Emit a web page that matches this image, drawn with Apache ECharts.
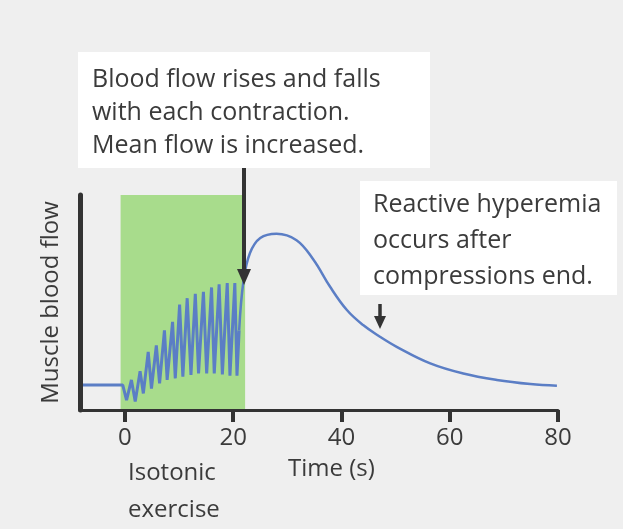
<!DOCTYPE html>
<html>
<head>
<meta charset="utf-8">
<script src="https://cdn.jsdelivr.net/npm/echarts@6/dist/echarts.min.js"></script>
<style>
  html, body { margin: 0; padding: 0; background: #efefef; }
  #chart { width: 623px; height: 529px; }
</style>
</head>
<body>
<div id="chart"></div>
<script>
// time (s) and flow (arbitrary units)
const exerciseTime = [-8.3, -0.4, 0.3, 1.2, 1.9, 2.8, 3.4, 4.3, 4.9, 5.8, 6.4, 7.3, 7.8, 8.8, 9.3, 10.1, 10.7, 11.5, 12.2, 13.0, 13.6, 14.5, 15.1, 16.0, 16.5, 17.4, 18.0, 18.9, 19.4, 20.3, 20.7, 21.1];
const exerciseFlow = [11.6, 11.6, 4.6, 14, 3.9, 18, 7.7, 27, 10, 30, 12.4, 37, 14, 41, 14.7, 49, 15.5, 52, 16.3, 54, 17, 55, 17, 57, 17, 58.5, 16.5, 59, 16, 59, 16, 37];
const recoveryTime = [21.1, 21.9, 23.1, 25, 28, 31.7, 34.8, 37.9, 41, 44, 47.1, 50.2, 56.4, 62.5, 68.7, 74.9, 79.8];
const recoveryFlow = [37, 60, 73, 80, 82, 79, 70, 57.3, 46.5, 39.5, 34.1, 29.4, 21.7, 17, 14, 12.1, 11.3];
const exerciseSpan = [-0.8, 22.2];
const tickValues = [0, 20, 40, 60, 80];

const FONT = 'Open Sans';
const TXT = '#3b3b3b';

const pair = (xs, ys) => xs.map((x, i) => [x, ys[i]]);

const chart = echarts.init(document.getElementById('chart'));

const option = {
  backgroundColor: '#efefef',
  animation: false,
  grid: { left: 80, right: 65, top: 195, bottom: 119 },
  xAxis: {
    type: 'value',
    min: -8.3,
    max: 80,
    axisLine: { show: true, lineStyle: { color: '#333', width: 3 } },
    axisTick: { show: true, customValues: tickValues, length: 12, lineStyle: { color: '#333', width: 4 } },
    axisLabel: { customValues: tickValues, margin: 16, fontSize: 24, color: TXT, fontFamily: FONT },
    splitLine: { show: false },
    z: 5
  },
  yAxis: {
    type: 'value',
    min: 0,
    max: 100,
    name: 'Muscle blood flow',
    nameLocation: 'middle',
    nameGap: 17,
    nameTextStyle: { fontSize: 24, color: TXT, fontFamily: FONT },
    axisLine: { show: true, onZero: false, lineStyle: { color: '#333', width: 5 } },
    axisTick: { show: false },
    axisLabel: { show: false },
    splitLine: { show: false },
    z: 5
  },
  series: [
    {
      type: 'line',
      data: pair(exerciseTime, exerciseFlow),
      symbol: 'none',
      lineStyle: { color: '#5b7ec5', width: 3 },
      markArea: {
        silent: true,
        itemStyle: { color: '#a8dc8c', opacity: 1 },
        data: [[{ xAxis: exerciseSpan[0] }, { xAxis: exerciseSpan[1] }]]
      },
      z: 3
    },
    {
      type: 'line',
      data: pair(recoveryTime, recoveryFlow),
      symbol: 'none',
      smooth: 0.4,
      lineStyle: { color: '#5b7ec5', width: 2.5 },
      z: 3
    }
  ],
  graphic: [
    // annotation 1
    { type: 'rect', z: 100, left: 78, top: 52, shape: { width: 352, height: 116 }, style: { fill: '#fff' } },
    { type: 'text', z: 101, left: 92, top: 63, style: { text: 'Blood flow rises and falls\nwith each contraction.\nMean flow is increased.', font: '25px "Open Sans"', fill: TXT, lineHeight: 33 } },
    { type: 'line', z: 100, shape: { x1: 244, y1: 168, x2: 244, y2: 272 }, style: { stroke: '#333', lineWidth: 4 } },
    { type: 'polygon', z: 100, shape: { points: [[237, 269], [251, 269], [244, 285]] }, style: { fill: '#333' } },
    // annotation 2
    { type: 'rect', z: 100, left: 360, top: 181, shape: { width: 257, height: 114 }, style: { fill: '#fff' } },
    { type: 'text', z: 101, left: 373, top: 187, style: { text: 'Reactive hyperemia\noccurs after\ncompressions end.', font: '25px "Open Sans"', fill: TXT, lineHeight: 36 } },
    { type: 'line', z: 100, shape: { x1: 380, y1: 304, x2: 380, y2: 318 }, style: { stroke: '#333', lineWidth: 3.5 } },
    { type: 'polygon', z: 100, shape: { points: [[374, 316], [386, 316], [380, 329]] }, style: { fill: '#333' } },
    // axis captions
    { type: 'text', z: 100, left: 128, top: 455, style: { text: 'Isotonic\nexercise', font: '24px "Open Sans"', fill: TXT, lineHeight: 37 } },
    { type: 'text', z: 100, left: 288, top: 457, style: { text: 'Time (s)', font: '24px "Open Sans"', fill: TXT } }
  ]
};

chart.setOption(option);
</script>
</body>
</html>
